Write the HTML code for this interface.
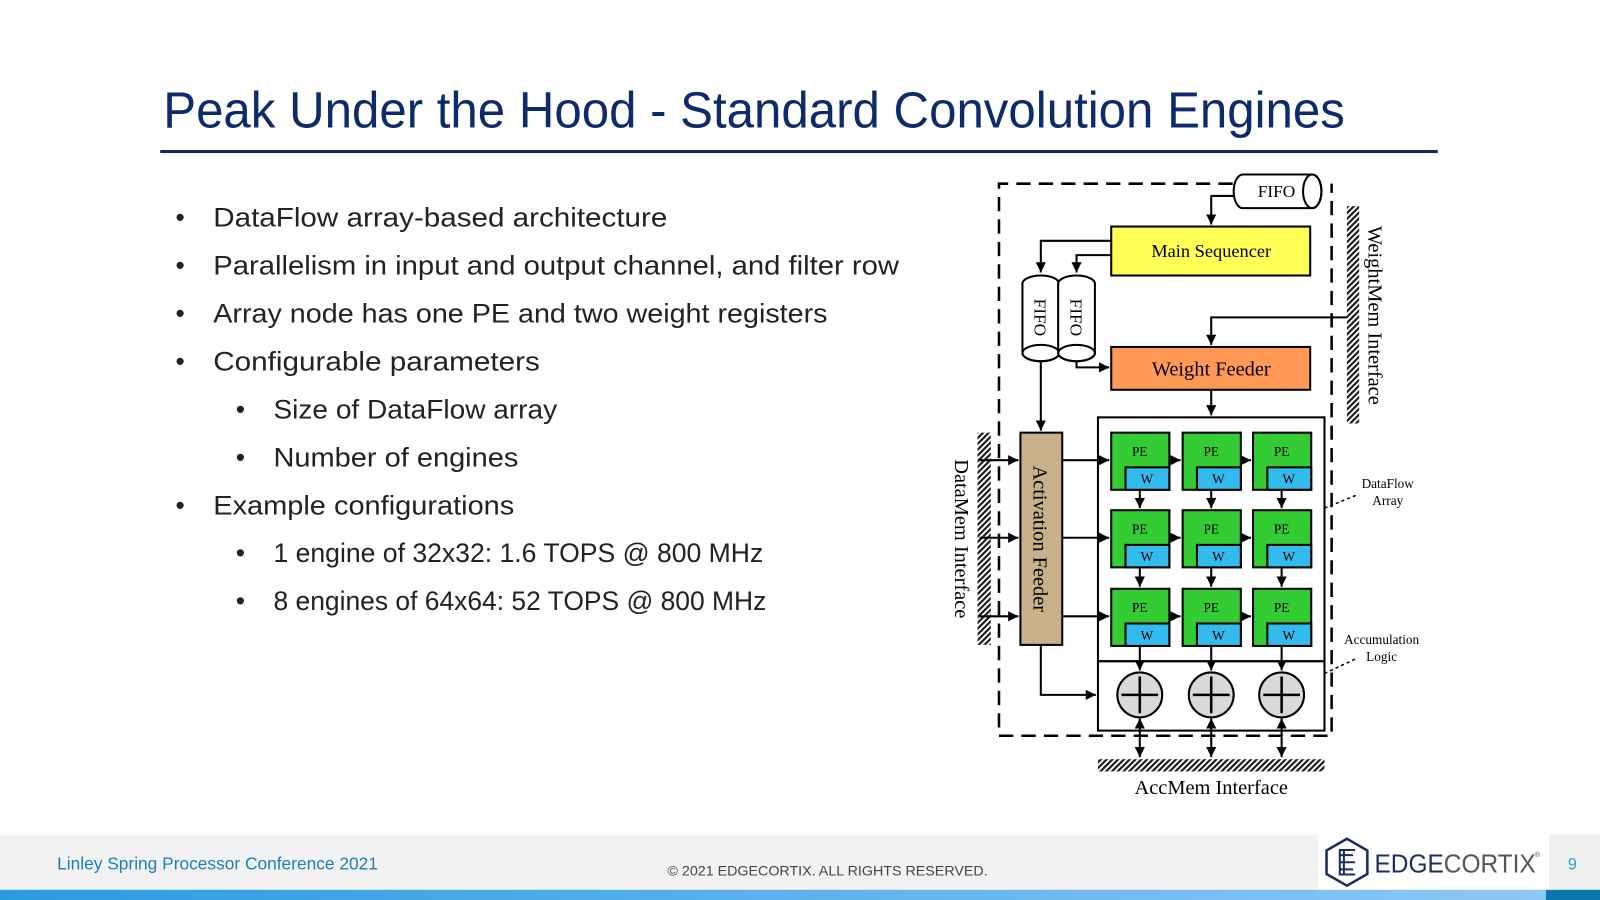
<!DOCTYPE html>
<html><head><meta charset="utf-8"><style>html,body{margin:0;padding:0;background:#fff}svg{display:block}</style></head>
<body>
<svg width="1600" height="900" viewBox="0 0 1568 882" xmlns="http://www.w3.org/2000/svg">
<defs>
<pattern id="h" width="4" height="4" patternUnits="userSpaceOnUse" patternTransform="rotate(45)"><rect width="4" height="4" fill="#fff"/><rect width="2.2" height="4" fill="#222"/></pattern>
<marker id="a" viewBox="0 0 10 10" refX="10" refY="5" markerWidth="5" markerHeight="5" orient="auto-start-reverse"><path d="M0,0L10,5L0,10z" fill="#000"/></marker>
<linearGradient id="bb" x1="0" x2="1"><stop offset="0" stop-color="#2a9be0"/><stop offset="1" stop-color="#8cc8f8"/></linearGradient>
</defs>
<text x="160" y="125" font-family="Liberation Sans, sans-serif" font-size="50" fill="#0d2a6b" textLength="1158" lengthAdjust="spacingAndGlyphs">Peak Under the Hood -  Standard Convolution Engines</text>
<rect x="157" y="147" width="1252" height="3" fill="#0d2a6b"/>
<g font-family="Liberation Sans, sans-serif" font-size="26" fill="#222">
<text x="172" y="222">•</text><text x="209" y="222" textLength="445" lengthAdjust="spacingAndGlyphs">DataFlow array-based architecture</text>
<text x="172" y="269">•</text><text x="209" y="269" textLength="672" lengthAdjust="spacingAndGlyphs">Parallelism in input and output channel, and filter row</text>
<text x="172" y="316">•</text><text x="209" y="316" textLength="602" lengthAdjust="spacingAndGlyphs">Array node has one PE and two weight registers</text>
<text x="172" y="363">•</text><text x="209" y="363" textLength="320" lengthAdjust="spacingAndGlyphs">Configurable parameters</text>
<text x="231" y="410">•</text><text x="268" y="410" textLength="278" lengthAdjust="spacingAndGlyphs">Size of DataFlow array</text>
<text x="231" y="457">•</text><text x="268" y="457" textLength="240" lengthAdjust="spacingAndGlyphs">Number of engines</text>
<text x="172" y="504">•</text><text x="209" y="504" textLength="295" lengthAdjust="spacingAndGlyphs">Example configurations</text>
<text x="231" y="551">•</text><text x="268" y="551" textLength="480" lengthAdjust="spacingAndGlyphs">1 engine of 32x32: 1.6 TOPS @ 800 MHz</text>
<text x="231" y="598">•</text><text x="268" y="598" textLength="483" lengthAdjust="spacingAndGlyphs">8 engines of 64x64: 52 TOPS @ 800 MHz</text>
</g>
<path d="M1208,180H979V721H1305V180" stroke="#000" stroke-width="2.5" fill="none" stroke-dasharray="14,8"/>
<g stroke="#000" stroke-width="2" fill="none">
<path d="M1218,171H1286A9,16.5 0 0 1 1286,204H1218A9,16.5 0 0 1 1218,171Z" fill="#fff"/>
<ellipse cx="1286" cy="187.5" rx="9" ry="16.5"/>
<path d="M1209,192H1187V220" marker-end="url(#a)"/>
<rect x="1089" y="222" width="195" height="48" fill="#ffff55"/>
<path d="M1089,236H1020V267" marker-end="url(#a)"/>
<path d="M1089,250H1055V267" marker-end="url(#a)"/>
<path d="M1002,278V346A18,8 0 0 0 1038,346V278A18,8 0 0 0 1002,278Z" fill="#fff"/>
<ellipse cx="1020" cy="346" rx="18" ry="8"/>
<path d="M1037,278V346A18,8 0 0 0 1073,346V278A18,8 0 0 0 1037,278Z" fill="#fff"/>
<ellipse cx="1055" cy="346" rx="18" ry="8"/>
<path d="M1055,354V360H1087" marker-end="url(#a)"/>
<rect x="1089" y="340" width="195" height="42" fill="#ff9955"/>
<path d="M1322,311H1187V338" marker-end="url(#a)"/>
<path d="M1187,382V407" marker-end="url(#a)"/>
<path d="M1020,354V422" marker-end="url(#a)"/>
<rect x="1000" y="424" width="41" height="208" fill="#c8b08a"/>
<rect x="958" y="424" width="13" height="208" fill="url(#h)" stroke="none"/>
<rect x="1320" y="202" width="12" height="213" fill="url(#h)" stroke="none"/>
<rect x="1076" y="744" width="222" height="12" fill="url(#h)" stroke="none"/>
<rect x="1076" y="409" width="222" height="239"/>
<rect x="1076" y="648" width="222" height="68"/>
<g marker-end="url(#a)">
<path d="M960,451H998"/><path d="M960,527H998"/><path d="M960,604H998"/>
<path d="M1041,451H1087"/><path d="M1041,527H1087"/><path d="M1041,604H1087"/>
<path d="M1146,451H1157"/><path d="M1146,527H1157"/><path d="M1146,604H1157"/>
<path d="M1215,451H1226"/><path d="M1215,527H1226"/><path d="M1215,604H1226"/>
<path d="M1117,480V498"/><path d="M1187,480V498"/><path d="M1256,480V498"/>
<path d="M1117,556V575"/><path d="M1187,556V575"/><path d="M1256,556V575"/>
<path d="M1117,633V657"/><path d="M1187,633V657"/><path d="M1256,633V657"/>
<path d="M1020,632V681H1074"/>
</g>
<g marker-start="url(#a)" marker-end="url(#a)">
<path d="M1117,704V742"/><path d="M1187,704V742"/><path d="M1256,704V742"/>
</g>
<g fill="#d9d9d9"><circle cx="1117" cy="681" r="22"/><circle cx="1187" cy="681" r="22"/><circle cx="1256" cy="681" r="22"/></g>
<path d="M1099,681H1135M1117,663V699M1169,681H1205M1187,663V699M1238,681H1274M1256,663V699" stroke-width="2.5"/>
<path d="M1298,498L1330,485M1298,660L1330,645" stroke-dasharray="3,3" stroke-width="1.5"/>
</g>
<g stroke="#000" stroke-width="2" font-family="Liberation Serif, serif" font-size="13">
<g id="pe"><rect x="1089" y="424" width="57" height="56" fill="#33cc33"/><rect x="1103" y="458" width="43" height="22" fill="#33bbee"/><text x="1117" y="447" stroke="none" fill="#000" text-anchor="middle">PE</text><text x="1124" y="474" stroke="none" fill="#000" text-anchor="middle">W</text></g>
<use href="#pe" x="70"/><use href="#pe" x="139"/>
<use href="#pe" y="76"/><use href="#pe" x="70" y="76"/><use href="#pe" x="139" y="76"/>
<use href="#pe" y="153"/><use href="#pe" x="70" y="153"/><use href="#pe" x="139" y="153"/>
</g>
<g font-family="Liberation Serif, serif" fill="#000">
<text x="1251" y="193" font-size="17" text-anchor="middle">FIFO</text>
<text x="1187" y="252" font-size="18" text-anchor="middle">Main Sequencer</text>
<text x="1187" y="368" font-size="20" text-anchor="middle">Weight Feeder</text>
<text transform="translate(1014,311) rotate(90)" font-size="17" text-anchor="middle">FIFO</text>
<text transform="translate(1049,311) rotate(90)" font-size="17" text-anchor="middle">FIFO</text>
<text transform="translate(1013,528) rotate(90)" font-size="20" text-anchor="middle">Activation Feeder</text>
<text transform="translate(936,528) rotate(90)" font-size="20" text-anchor="middle">DataMem Interface</text>
<text transform="translate(1341,309) rotate(90)" font-size="20" text-anchor="middle">WeightMem Interface</text>
<text x="1187" y="778" font-size="20" text-anchor="middle">AccMem Interface</text>
<text x="1360" y="478" font-size="13" text-anchor="middle">DataFlow</text>
<text x="1360" y="495" font-size="13" text-anchor="middle">Array</text>
<text x="1354" y="631" font-size="13" text-anchor="middle">Accumulation</text>
<text x="1354" y="648" font-size="13" text-anchor="middle">Logic</text>
</g>
<rect x="0" y="818" width="1292" height="54" fill="#f2f2f2"/>
<rect x="1518" y="818" width="50" height="54" fill="#f0f0f0"/>
<rect x="0" y="872" width="1515" height="10" fill="url(#bb)"/>
<rect x="1515" y="872" width="53" height="10" fill="#0a78ad"/>
<text x="56" y="852" font-family="Liberation Sans, sans-serif" font-size="17" fill="#1a7fc0">Linley Spring Processor Conference 2021</text>
<text x="811" y="858" font-family="Liberation Sans, sans-serif" font-size="14" fill="#444" text-anchor="middle">© 2021 EDGECORTIX. ALL RIGHTS RESERVED.</text>
<path d="M1320,822L1340,833.5V856.5L1320,868L1300,856.5V833.5Z" fill="none" stroke="#1d2e5e" stroke-width="2.5"/>
<path d="M1312,833H1328M1312,838H1326M1312,845H1328M1312,852H1326M1312,857H1328M1313,833V857M1317,833V857" stroke="#1d2e5e" stroke-width="2"/>
<text x="1347" y="855" font-family="Liberation Sans, sans-serif" font-size="25" fill="#1d2e5e" textLength="158" lengthAdjust="spacingAndGlyphs">EDGE<tspan fill="#555">CORTIX</tspan></text>
<text x="1504" y="840" font-family="Liberation Sans, sans-serif" font-size="7" fill="#555">®</text>
<text x="1541" y="852" font-family="Liberation Sans, sans-serif" font-size="16" fill="#2aa0d8" text-anchor="middle">9</text>
</svg>
</body></html>
